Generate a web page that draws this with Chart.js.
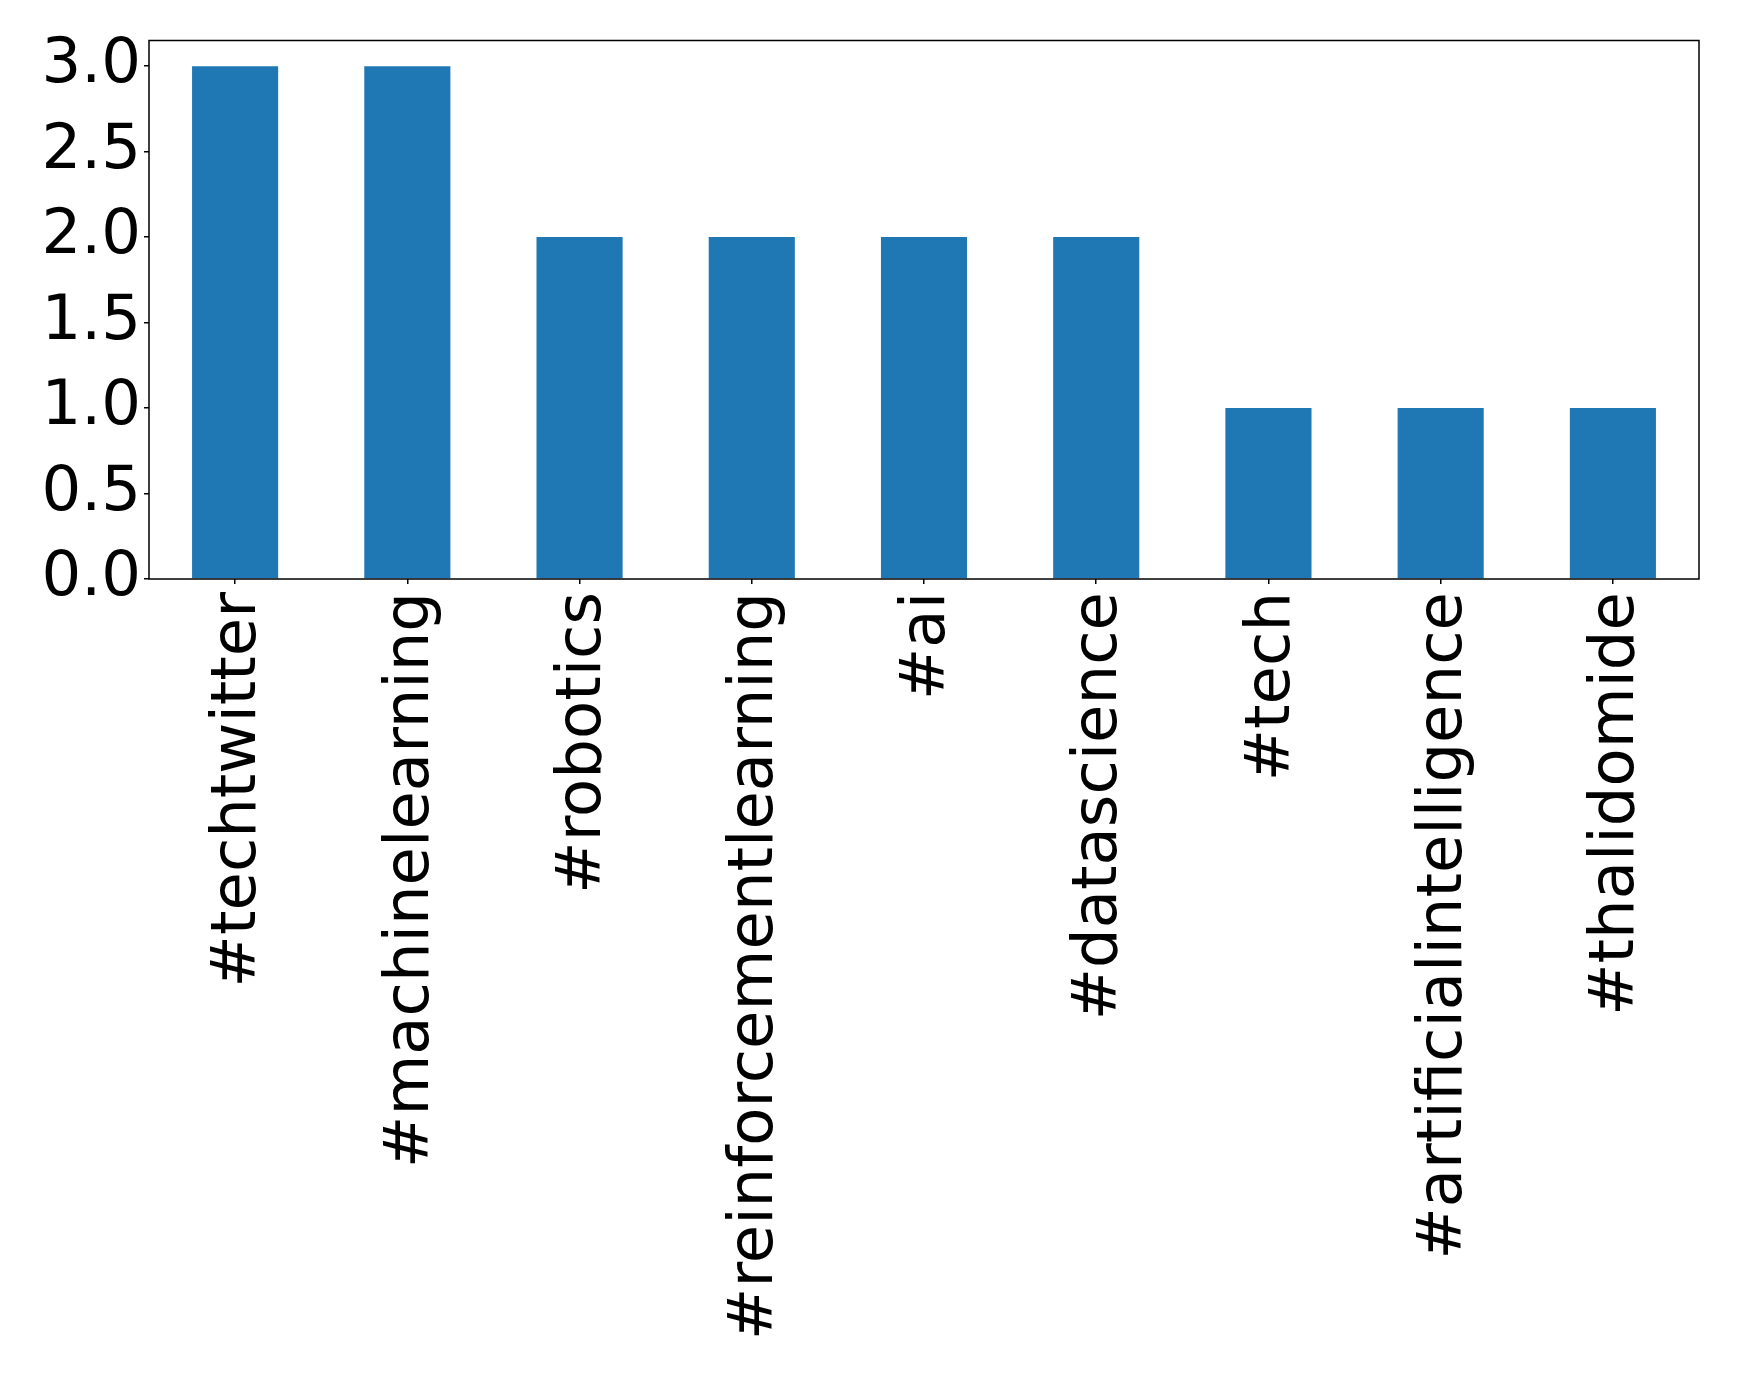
<!DOCTYPE html>
<html>
<head>
<meta charset="utf-8">
<script src="https://cdn.jsdelivr.net/npm/chart.js@4"></script>
<style>
  html, body { margin: 0; padding: 0; background: #fff; }
  #wrap { width: 1739px; height: 1376px; }
</style>
</head>
<body>
<div id="wrap"><canvas id="chart" width="1739" height="1376"></canvas></div>
<script>
const hashtags = ['#techtwitter', '#machinelearning', '#robotics', '#reinforcementlearning', '#ai', '#datascience', '#tech', '#artificialintelligence', '#thalidomide'];
const counts = [3, 3, 2, 2, 2, 2, 1, 1, 1];
const yTicks = [0, 0.5, 1, 1.5, 2, 2.5, 3];

const frame = {
  id: 'frame',
  afterDatasetsDraw(chart) {
    const a = chart.chartArea;
    const c = chart.ctx;
    c.save();
    c.strokeStyle = '#000';
    c.lineWidth = 1.5;
    c.strokeRect(a.left, a.top, a.right - a.left, a.bottom - a.top);
    c.restore();
  }
};

const ctx = document.getElementById('chart');
const chart = new Chart(ctx, {
  type: 'bar',
  data: {
    labels: hashtags,
    datasets: [{
      data: counts,
      backgroundColor: '#1f77b4',
      barPercentage: 0.5,
      categoryPercentage: 1.0,
    }],
  },
  options: {
    responsive: false,
    animation: false,
    layout: { padding: { top: 31, right: 40, left: 0, bottom: 0 } },
    plugins: { legend: { display: false }, tooltip: { enabled: false } },
    scales: {
      x: {
        offset: true,
        grid: { offset: false, drawOnChartArea: false, drawTicks: true, tickLength: 5, color: '#000', lineWidth: 1.5 },
        border: { display: false },
        ticks: {
          color: '#000',
          font: { family: 'DejaVu Sans', size: 62.5 },
          minRotation: 90,
          maxRotation: 90,
          autoSkip: false,
          padding: 8,
          labelOffset: 4,
        },
        afterFit(scale) { scale.height = 797; },
      },
      y: {
        min: 0,
        max: 3.15,
        afterBuildTicks(scale) { scale.ticks = yTicks.map(v => ({ value: v })); },
        grid: { drawOnChartArea: false, drawTicks: true, tickLength: 5, color: '#000', lineWidth: 1.5 },
        border: { display: false },
        ticks: {
          color: '#000',
          font: { family: 'DejaVu Sans', size: 62.5 },
          padding: 3,
          callback: v => v.toFixed(1),
        },
        afterFit(scale) { scale.width = 149; },
      },
    },
  },
  plugins: [frame],
});
</script>
</body>
</html>
